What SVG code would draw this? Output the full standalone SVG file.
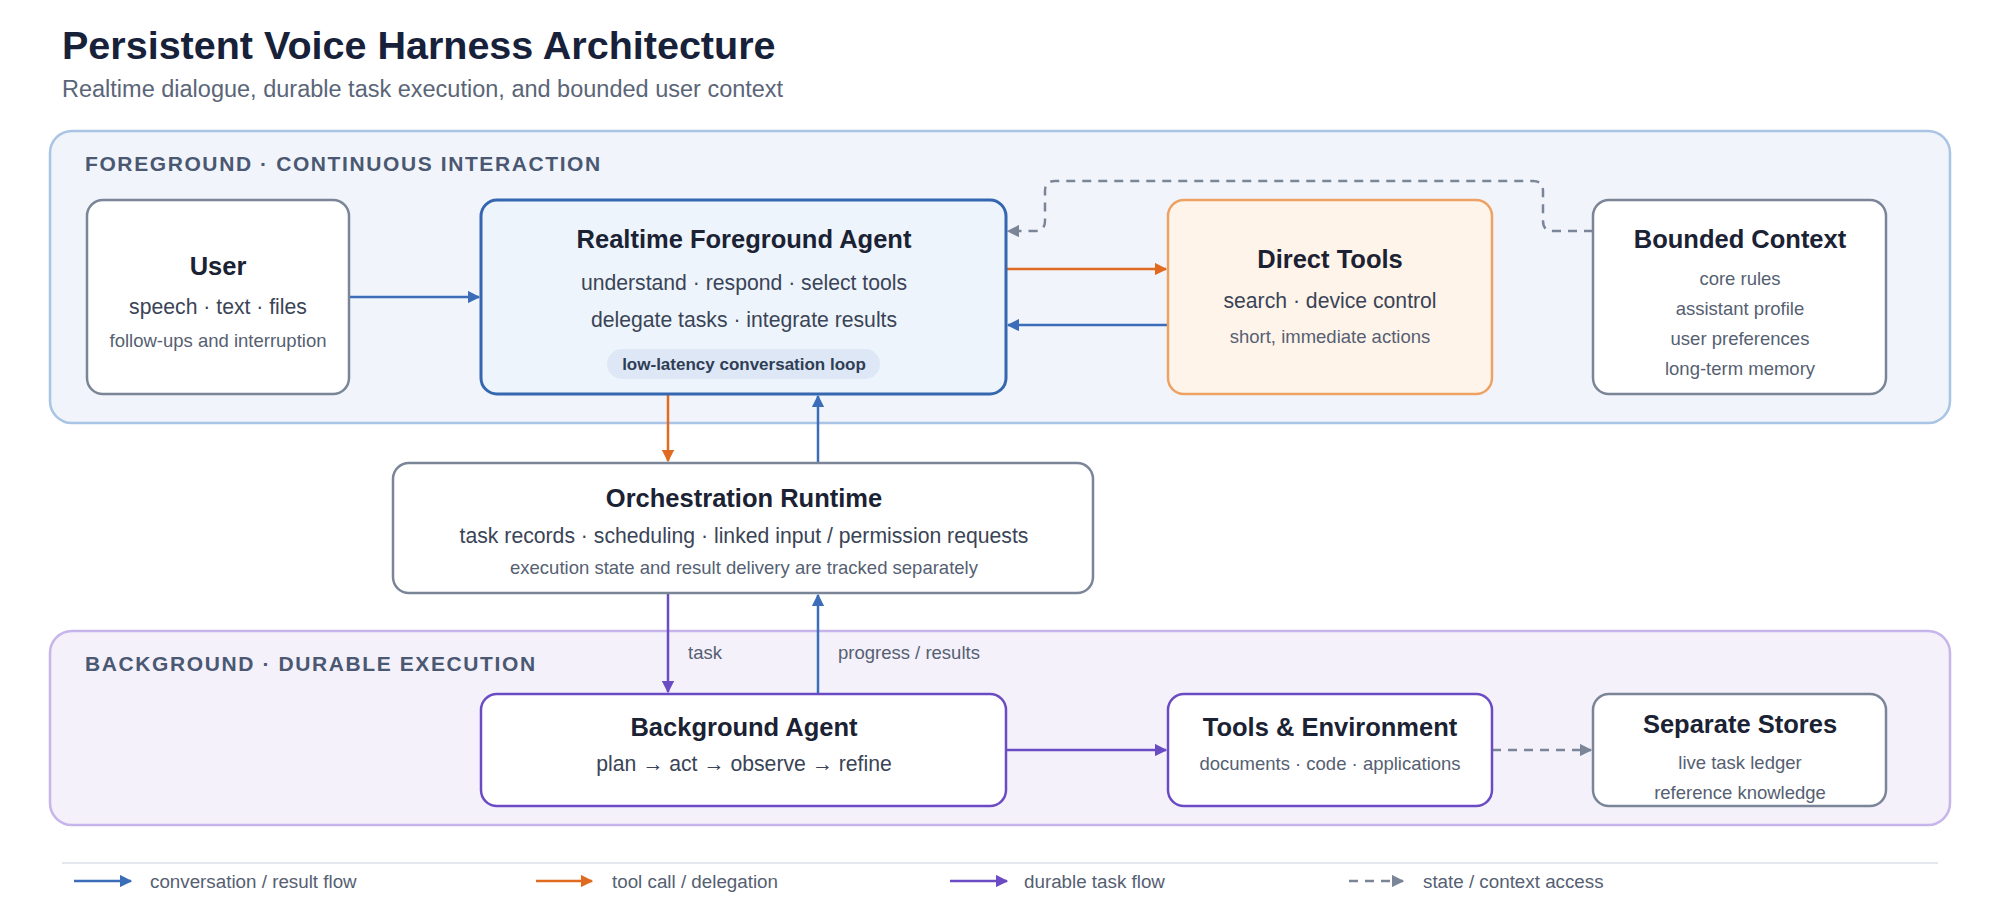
<svg xmlns="http://www.w3.org/2000/svg" width="2000" height="900" viewBox="0 0 2000 900">
<defs>
<style>
text{font-family:"Liberation Sans",Arial,sans-serif;text-anchor:middle}
.t{font-size:25.5px;font-weight:bold;fill:#1a2233}
.m{font-size:21.2px;fill:#3a4456}
.s{font-size:18.5px;fill:#556072}
.pl{font-size:21px;font-weight:bold;fill:#4a5872;text-anchor:start;letter-spacing:1.6px}
.lg{font-size:18.8px;fill:#556072;text-anchor:start}
.box{fill:#fff;stroke:#7b8598;stroke-width:2.5}
.pbox{fill:#fff;stroke:#6b4bc4;stroke-width:2.5}
.blue{stroke:#3b6db8;stroke-width:2.5;fill:none}
.or{stroke:#e06a1f;stroke-width:2.5;fill:none}
.pu{stroke:#6b4bc4;stroke-width:2.5;fill:none}
.gr{stroke:#7b8598;stroke-width:2.5;fill:none;stroke-dasharray:9 7}
</style>
<marker id="ab" viewBox="0 0 10 10" refX="9" refY="5" markerWidth="5" markerHeight="5" orient="auto"><path d="M0,0L10,5L0,10z" fill="#3b6db8"/></marker>
<marker id="ao" viewBox="0 0 10 10" refX="9" refY="5" markerWidth="5" markerHeight="5" orient="auto"><path d="M0,0L10,5L0,10z" fill="#e06a1f"/></marker>
<marker id="ap" viewBox="0 0 10 10" refX="9" refY="5" markerWidth="5" markerHeight="5" orient="auto"><path d="M0,0L10,5L0,10z" fill="#6b4bc4"/></marker>
<marker id="ag" viewBox="0 0 10 10" refX="9" refY="5" markerWidth="5" markerHeight="5" orient="auto"><path d="M0,0L10,5L0,10z" fill="#7b8598"/></marker>
</defs>
<rect width="2000" height="900" fill="#fff"/>
<text x="62" y="59" style="font-size:39.5px;font-weight:bold;fill:#17223a;text-anchor:start">Persistent Voice Harness Architecture</text>
<text x="62" y="97" style="font-size:23.5px;fill:#5a6578;text-anchor:start">Realtime dialogue, durable task execution, and bounded user context</text>

<g id="panel-foreground"><rect x="50" y="131" width="1900" height="292" rx="22" fill="#f1f5fb" stroke="#a9c4e4" stroke-width="2.5"/>
<text class="pl" x="85" y="171">FOREGROUND · CONTINUOUS INTERACTION</text></g>
<g id="panel-background"><rect x="50" y="631" width="1900" height="194" rx="22" fill="#f4f1fb" stroke="#c6b5ea" stroke-width="2.5"/>
<text class="pl" x="85" y="671">BACKGROUND · DURABLE EXECUTION</text></g>

<g id="connectors">
<path class="blue" d="M349,297H479" marker-end="url(#ab)"/>
<path class="or" d="M1006,269H1166" marker-end="url(#ao)"/>
<path class="blue" d="M1168,325H1008" marker-end="url(#ab)"/>
<path class="gr" d="M1593,231H1553Q1543,231 1543,221V191Q1543,181 1533,181H1055Q1045,181 1045,191V221Q1045,231 1035,231H1008" marker-end="url(#ag)"/>
<path class="or" d="M668,394V461" marker-end="url(#ao)"/>
<path class="blue" d="M818,463V396" marker-end="url(#ab)"/>
<path class="pu" d="M668,593V692" marker-end="url(#ap)"/>
<path class="blue" d="M818,694V595" marker-end="url(#ab)"/>
<path class="pu" d="M1006,750H1166" marker-end="url(#ap)"/>
<path class="gr" d="M1492,750H1591" marker-end="url(#ag)"/>
<text class="s" x="688" y="659" style="text-anchor:start">task</text>
<text class="s" x="838" y="659" style="text-anchor:start">progress / results</text>
</g>

<g id="user"><rect class="box" x="87" y="200" width="262" height="194" rx="16"/>
<text class="t" x="218" y="275">User</text>
<text class="m" x="218" y="314">speech · text · files</text>
<text class="s" x="218" y="347">follow-ups and interruption</text></g>

<g id="realtime-agent"><rect x="481" y="200" width="525" height="194" rx="16" fill="#eef4fc" stroke="#3566b0" stroke-width="3"/>
<text class="t" x="744" y="248">Realtime Foreground Agent</text>
<text class="m" x="744" y="290">understand · respond · select tools</text>
<text class="m" x="744" y="327">delegate tasks · integrate results</text>
<rect x="607" y="349" width="273" height="30" rx="15" fill="#dde7f5"/>
<text x="744" y="370" style="font-size:17px;font-weight:bold;fill:#2f3d55">low-latency conversation loop</text></g>

<g id="direct-tools"><rect x="1168" y="200" width="324" height="194" rx="16" fill="#fff4ea" stroke="#eda263" stroke-width="2.5"/>
<text class="t" x="1330" y="268">Direct Tools</text>
<text class="m" x="1330" y="308">search · device control</text>
<text class="s" x="1330" y="343">short, immediate actions</text></g>

<g id="bounded-context"><rect class="box" x="1593" y="200" width="293" height="194" rx="16"/>
<text class="t" x="1740" y="248">Bounded Context</text>
<text class="s" x="1740" y="285">core rules</text>
<text class="s" x="1740" y="315">assistant profile</text>
<text class="s" x="1740" y="345">user preferences</text>
<text class="s" x="1740" y="375">long-term memory</text></g>

<g id="orchestration"><rect class="box" x="393" y="463" width="700" height="130" rx="16"/>
<text class="t" x="744" y="507">Orchestration Runtime</text>
<text class="m" x="744" y="543">task records · scheduling · linked input / permission requests</text>
<text class="s" x="744" y="574">execution state and result delivery are tracked separately</text></g>

<g id="background-agent"><rect class="pbox" x="481" y="694" width="525" height="112" rx="16"/>
<text class="t" x="744" y="736">Background Agent</text>
<text class="m" x="744" y="771">plan → act → observe → refine</text></g>

<g id="tools-env"><rect class="pbox" x="1168" y="694" width="324" height="112" rx="16"/>
<text class="t" x="1330" y="736">Tools &amp; Environment</text>
<text class="s" x="1330" y="770">documents · code · applications</text></g>

<g id="separate-stores"><rect class="box" x="1593" y="694" width="293" height="112" rx="16"/>
<text class="t" x="1740" y="733">Separate Stores</text>
<text class="s" x="1740" y="769">live task ledger</text>
<text class="s" x="1740" y="799">reference knowledge</text></g>

<g id="legend">
<line x1="62" y1="863" x2="1938" y2="863" stroke="#dde2ea" stroke-width="1.5"/>
<path class="blue" d="M74,881H131" marker-end="url(#ab)"/><text class="lg" x="150" y="888">conversation / result flow</text>
<path class="or" d="M536,881H592" marker-end="url(#ao)"/><text class="lg" x="612" y="888">tool call / delegation</text>
<path class="pu" d="M950,881H1007" marker-end="url(#ap)"/><text class="lg" x="1024" y="888">durable task flow</text>
<path class="gr" d="M1349,881H1403" marker-end="url(#ag)"/><text class="lg" x="1423" y="888">state / context access</text>
</g>
</svg>
